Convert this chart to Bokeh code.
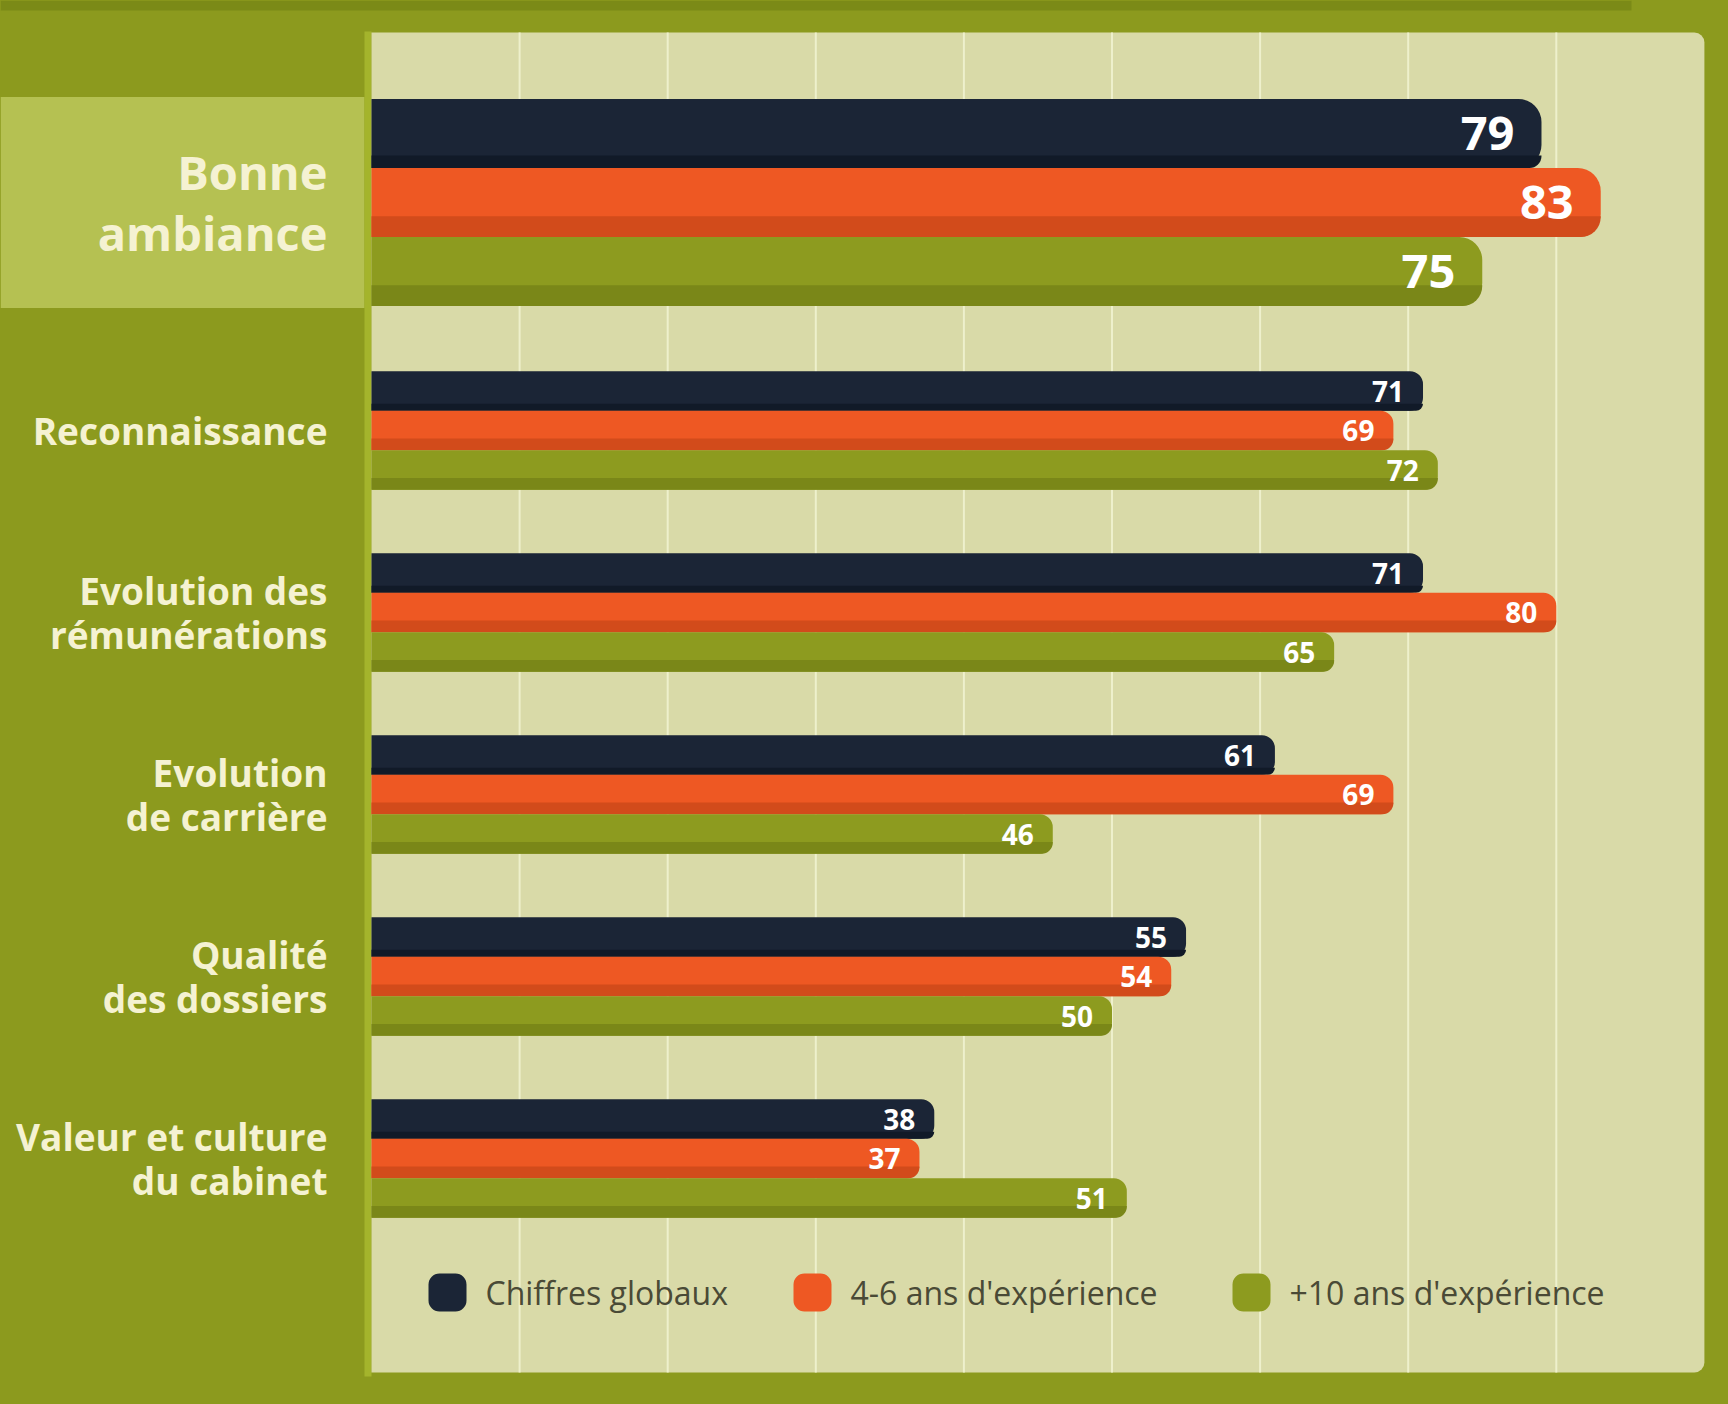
from bokeh.plotting import figure
from bokeh.models import ColumnDataSource, Range1d
from bokeh.core.properties import value
from bokeh.embed import file_html
from bokeh.resources import INLINE

# ---------------- data ----------------
categories = ["Bonne\nambiance", "Reconnaissance", "Evolution des\nrémunérations",
              "Evolution\nde carrière", "Qualité\ndes dossiers", "Valeur et culture\ndu cabinet"]
series = ["Chiffres globaux", "4-6 ans d'expérience", "+10 ans d'expérience"]
chiffres_globaux = [79, 71, 71, 61, 55, 38]
exp_4_6 = [83, 69, 80, 69, 54, 37]
exp_10_plus = [75, 72, 65, 46, 50, 51]
grid_ticks = [10, 20, 30, 40, 50, 60, 70, 80]
x_max = 90
highlight = 0  # emphasised category

# ---------------- styles / layout ----------------
OLIVE = "#8c9a1e"
TOPBAND = "#7b8a17"
BEIGE = "#d9daa8"
HILITE = "#b5c152"
STRIPE = "#a4b42c"
GRID = "#eef0cc"
LABEL = "#f5f2d2"
LEGEND_TXT = "#4a4a36"
main_colors = ["#1b2536", "#ee5823", "#8d9b1f"]
dark_colors = ["#111a28", "#d24b1b", "#7a8718"]
strip_frac = [0.18, 0.3, 0.3]

W, H = 1728, 1404
PX = 14.81          # pixels per unit
ORIGIN = 371        # pixel position of value 0
BIG_H, SMALL_H = 69.0, 39.5
BIG_R, SMALL_R = 23, 13
FIRST_C, NEXT_C, GAP = 202, 430, 182
PLOT_TOP, PLOT_BOTTOM = 32, 1372
LEGEND_Y = 1292
LEGEND_X = [428, 793, 1232]   # swatch left edges (px)
SWATCH = 38

values = [chiffres_globaux, exp_4_6, exp_10_plus]
n = len(categories)
centers = [FIRST_C if i == highlight else NEXT_C + GAP * (i - 1) for i in range(n)]
heights = [BIG_H if i == highlight else SMALL_H for i in range(n)]

p = figure(width=W, height=H, output_backend="svg", toolbar_location=None,
           x_range=Range1d(-ORIGIN / PX, (W - ORIGIN) / PX), y_range=Range1d(-H, 0),
           x_axis_location=None, y_axis_location=None, min_border=0,
           background_fill_color=OLIVE, border_fill_color=OLIVE, outline_line_color=None)
p.grid.visible = False

x_left = -ORIGIN / PX
# top darker band
p.quad(left=[x_left], right=[(1631 - ORIGIN) / PX], top=[0], bottom=[-10], fill_color=TOPBAND, line_color=None)
# left highlight band
hc = centers[highlight]
p.quad(left=[x_left], right=[-7 / PX], top=[-(hc - 1.5 * BIG_H - 2)], bottom=[-(hc + 1.5 * BIG_H + 2)],
       fill_color=HILITE, line_color=None)
# thin stripe
p.quad(left=[-7 / PX], right=[0], top=[-PLOT_TOP + 1], bottom=[-PLOT_BOTTOM - 4], fill_color=STRIPE, line_color=None)
# plot area
p.quad(left=[0], right=[x_max], top=[-PLOT_TOP], bottom=[-PLOT_BOTTOM], fill_color=BEIGE,
       line_color=None, border_radius=(0, 10, 10, 0))
# grid
p.segment(x0=grid_ticks, x1=grid_ticks, y0=[-PLOT_TOP] * len(grid_ticks), y1=[-PLOT_BOTTOM] * len(grid_ticks),
          line_color=GRID, line_width=2)

lab_rows = {"x": [], "y": [], "text": [], "fs": [], "xo": []}
for k, vals in enumerate(values):
    for big in (True, False):
        idx = [i for i in range(n) if (i == highlight) == big]
        ys = [-(centers[i] + (k - 1) * heights[i]) for i in idx]
        hs = [heights[i] for i in idx]
        rs = [vals[i] for i in idx]
        rad = BIG_R if big else SMALL_R
        p.hbar(y=ys, left=0, right=rs, height=hs, fill_color=main_colors[k], line_color=None,
               border_radius=(0, rad, rad, 0))
        f = strip_frac[k]
        sy = [y - h / 2 + f * h / 2 for y, h in zip(ys, hs)]
        sh = [f * h for h in hs]
        p.hbar(y=sy, left=0, right=rs, height=sh, fill_color=dark_colors[k], line_color=None,
               border_radius=(0, 0, min(rad, int(f * min(hs))), 0))
        for i, y in zip(idx, ys):
            lab_rows["x"].append(vals[i])
            lab_rows["y"].append(y)
            lab_rows["text"].append(str(vals[i]))
            lab_rows["fs"].append("47px" if big else "28px")
            lab_rows["xo"].append(-27 if big else -19)

p.text(x="x", y="y", text="text", source=ColumnDataSource(lab_rows), text_font=value("Open Sans"),
       text_font_style="bold", text_font_size="fs", x_offset="xo", text_color="white",
       text_align="right", text_baseline="middle")

# category labels
hi_idx = [highlight]
lo_idx = [i for i in range(n) if i != highlight]
p.text(x=[0] * len(hi_idx), y=[-centers[i] for i in hi_idx], text=[categories[i] for i in hi_idx],
       x_offset=-44, text_font=value("Open Sans"), text_font_style="bold", text_font_size="47px",
       text_color=LABEL, text_align="right", text_baseline="middle", text_line_height=0.94)
p.text(x=[0] * len(lo_idx), y=[-centers[i] for i in lo_idx], text=[categories[i] for i in lo_idx],
       x_offset=-44, text_font=value("Open Sans"), text_font_style="bold", text_font_size="37px",
       text_color=LABEL, text_align="right", text_baseline="middle", text_line_height=0.88)

# legend (swatches + labels)
lx = [(x - ORIGIN) / PX for x in LEGEND_X]
p.hbar(y=[-LEGEND_Y] * 3, left=lx, right=[x + SWATCH / PX for x in lx], height=SWATCH,
       fill_color=main_colors, line_color=None, border_radius=11)
p.text(x=lx, y=[-LEGEND_Y] * 3, text=series, x_offset=SWATCH + 19, text_font=value("Open Sans"),
       text_font_size="32px", text_color=LEGEND_TXT, text_align="left", text_baseline="middle")

template = """
{% block postamble %}
<style>
html, body { margin: 0; padding: 0; background: #8c9a1e; overflow: hidden; }
</style>
{% endblock %}
"""

open("out.html", "w").write(file_html(p, INLINE, template=template))
